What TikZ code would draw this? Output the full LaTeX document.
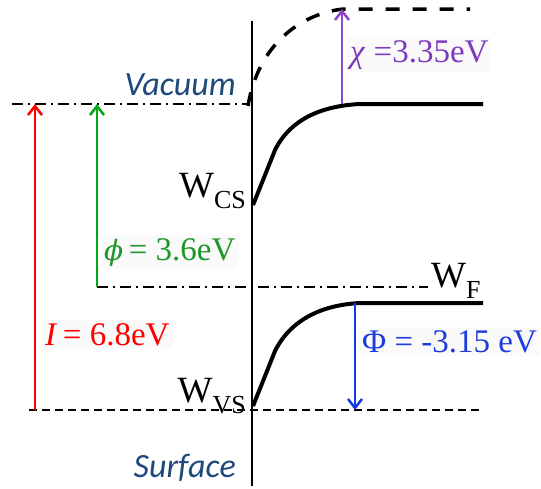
\documentclass[tikz,border=0pt]{standalone}
\usepackage{fontspec}
\setmainfont{Liberation Serif}
\newfontfamily\calibrifont{Carlito}
\newfontfamily\dvserif{DejaVu Serif}
\usetikzlibrary{arrows.meta}
\definecolor{cred}{RGB}{255,0,0}
\definecolor{cgreen}{RGB}{0,168,20}
\definecolor{cgreentxt}{RGB}{30,150,40}
\definecolor{cpurple}{RGB}{140,70,200}
\definecolor{cpurpletxt}{RGB}{125,60,190}
\definecolor{cblue}{RGB}{20,60,230}
\definecolor{cbluetxt}{RGB}{30,60,220}
\definecolor{cnavy}{RGB}{31,73,125}
\newcommand{\lowsub}[1]{\raisebox{-11pt}{\fontsize{26}{28}\selectfont #1}}
\tikzset{
  band/.style={line width=4pt, line join=round},
  dashdotline/.style={line width=1.6pt, dash pattern=on 11pt off 5pt on 2pt off 5pt},
  arr/.style={line width=2.5pt, -{Straight Barb[length=9pt,width=14pt]}},
  lbl/.style={inner sep=3pt, anchor=base west, fill=black!2, font=\fontsize{33}{35}\selectfont},
  wlbl/.style={inner sep=0pt, font=\fontsize{37}{39}\selectfont},
  italbl/.style={inner sep=0pt, anchor=base east, text=cnavy, font=\calibrifont\itshape\fontsize{34}{36}\selectfont}
}
\begin{document}
\begin{tikzpicture}[x=1pt,y=-1pt]
\useasboundingbox (0,0) rectangle (541,488);
% coordinates
\coordinate (vtop) at (252,21);
\coordinate (vbot) at (252,486);
\coordinate (vacL) at (12,104);
\coordinate (vacR) at (250,104);
\coordinate (wfL) at (97,287);
\coordinate (wfR) at (428,287);
\coordinate (botL) at (29,410);
\coordinate (botR) at (480,410);
\coordinate (redB) at (35,410);
\coordinate (redT) at (35,104);
\coordinate (grnT) at (97,104);
\coordinate (purB) at (342,104);
\coordinate (purT) at (342,9);
\coordinate (bluT) at (355,303);
\coordinate (bluB) at (355,410);
% labels (backgrounds first)
\node[lbl, text=cpurpletxt] (chi) at (347,62) {\textit{χ} =3.35eV};
\node[lbl, text=cgreentxt] (phi) at (101,260) {{\dvserif\itshape\fontsize{28}{30}\selectfont ϕ}\,= 3.6eV};
\node[lbl, text=cred] (ion) at (42,345) {\textit{I}\,= 6.8eV};
\node[lbl, text=cbluetxt] (Phi) at (359,352) {Φ = -3.15 eV};
% surface line
\draw[line width=2.5pt] (vtop) -- (vbot);
% level lines
\draw[dashdotline] (vacL) -- (vacR);
\draw[dashdotline] (wfL) -- (wfR);
\draw[line width=2pt, dash pattern=on 8pt off 5pt] (botL) -- (botR);
% bands
\draw[band] (253,205) -- (275,150) .. controls (290,120) and (320,106) .. (360,104) -- (483,104);
\draw[band] (253,406) -- (275,351) .. controls (290,321) and (320,305) .. (360,303) -- (483,303);
% vacuum level curve
\draw[line width=3.5pt, dash pattern=on 14pt off 13pt] (248,106) .. controls (258,45) and (300,14) .. (343,9) -- (470,9);
% arrows
\draw[arr, cred] (redB) -- (redT);
\draw[arr, cgreen] (wfL) -- (grnT);
\draw[arr, cpurple] (purB) -- (purT);
\draw[arr, cblue] (bluT) -- (bluB);
% W labels
\node[wlbl, anchor=base east] (wcs) at (246,197) {W\lowsub{CS}};
\node[wlbl, anchor=base east] (wvs) at (246,402) {W\lowsub{VS}};
\node[wlbl, anchor=base west] (wf) at (431,287) {W\lowsub{F}};
% side labels
\node[italbl] (vac) at (236,95) {Vacuum};
\node[italbl] (surf) at (236,477) {Surface};
\end{tikzpicture}
\end{document}
